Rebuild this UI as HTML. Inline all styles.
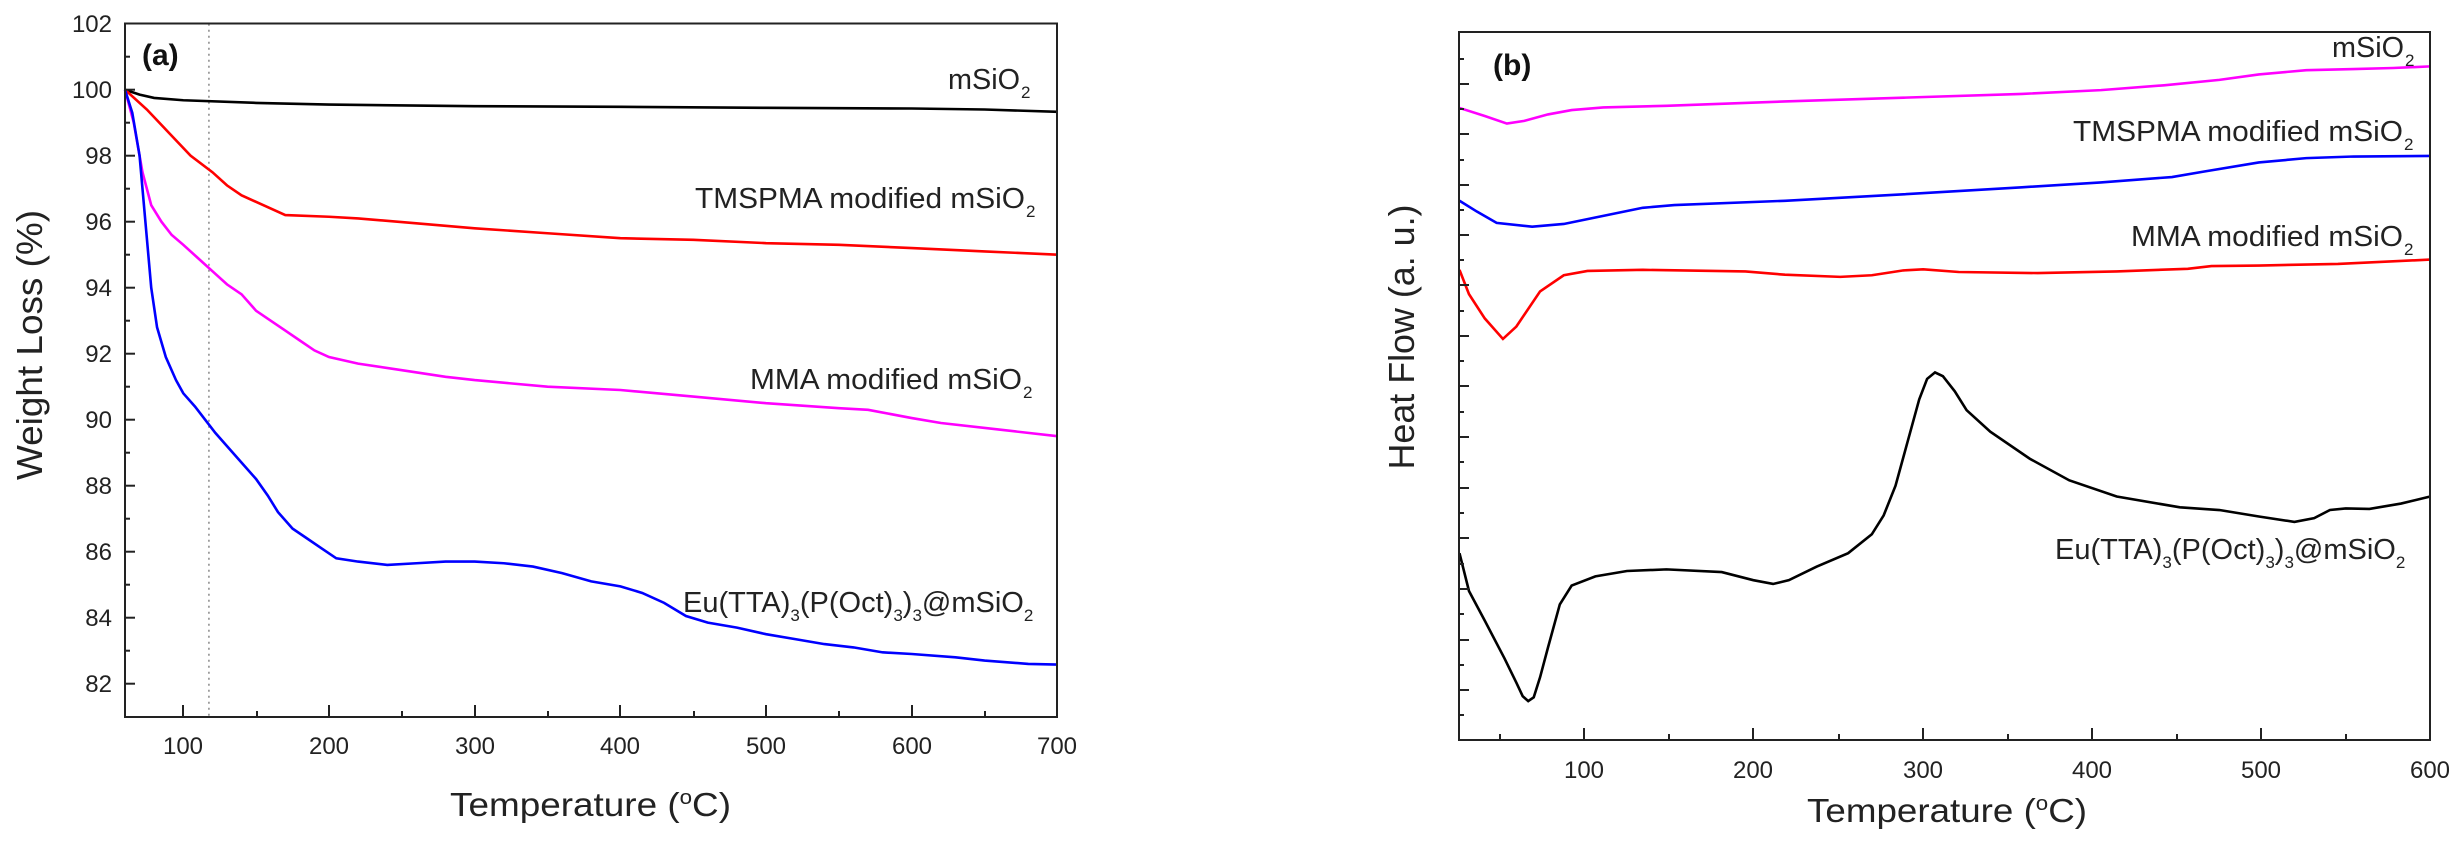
<!DOCTYPE html>
<html><head><meta charset="utf-8"><style>
html,body{margin:0;padding:0;background:#fff;}
svg{display:block;font-family:"Liberation Sans",Arial,sans-serif;}
</style></head><body>
<svg width="2464" height="842" viewBox="0 0 2464 842" xmlns="http://www.w3.org/2000/svg">
<rect width="2464" height="842" fill="#fff"/>
<!-- Panel A -->
<g transform="translate(125,23.7) scale(1.457,-33) translate(-60,-102)" fill="none" stroke-width="2.6">
<line x1="117.6" y1="102" x2="117.6" y2="81" stroke="#888" stroke-dasharray="2,4" vector-effect="non-scaling-stroke" stroke-width="1.5"/>
<polyline vector-effect="non-scaling-stroke" stroke="#000" points="60,100 70,99.85 80,99.75 100,99.68 150,99.6 200,99.55 300,99.5 400,99.48 500,99.45 600,99.43 650,99.4 700,99.33"/>
<polyline vector-effect="non-scaling-stroke" stroke="#f00" points="60,100 75,99.4 90,98.7 105,98 120,97.5 130,97.1 140,96.8 155,96.5 170,96.2 200,96.15 220,96.1 260,95.95 300,95.8 350,95.65 400,95.5 450,95.45 500,95.35 550,95.3 600,95.2 650,95.1 700,95.0"/>
<polyline vector-effect="non-scaling-stroke" stroke="#f0f" points="60,100 66,99 72,97.5 78,96.5 85,96 92,95.6 100,95.3 110,94.9 120,94.5 130,94.1 140,93.8 150,93.3 160,93 170,92.7 180,92.4 190,92.1 200,91.9 220,91.7 250,91.5 280,91.3 300,91.2 350,91.0 400,90.9 450,90.7 500,90.5 550,90.35 570,90.3 600,90.05 620,89.9 660,89.7 700,89.5"/>
<polyline vector-effect="non-scaling-stroke" stroke="#00f" points="60,100 65,99.3 70,98 74,96 78,94 82,92.8 88,91.9 95,91.2 100,90.8 108,90.4 115,90 122,89.6 130,89.2 140,88.7 150,88.2 158,87.7 165,87.2 175,86.7 185,86.4 195,86.1 205,85.8 220,85.7 240,85.6 260,85.65 280,85.7 300,85.7 320,85.65 340,85.55 360,85.35 380,85.1 400,84.95 415,84.75 430,84.45 445,84.05 460,83.85 480,83.7 500,83.5 520,83.35 540,83.2 560,83.1 580,82.95 600,82.9 630,82.8 650,82.7 680,82.6 700,82.58"/>
</g>
<rect x="125" y="23.5" width="932" height="693.5" fill="none" stroke="#222" stroke-width="2"/>
<g stroke="#222" stroke-width="2">
<line x1="183" y1="717" x2="183" y2="705"/><line x1="329" y1="717" x2="329" y2="705"/><line x1="475" y1="717" x2="475" y2="705"/><line x1="620" y1="717" x2="620" y2="705"/><line x1="766" y1="717" x2="766" y2="705"/><line x1="912" y1="717" x2="912" y2="705"/>
<line x1="257" y1="717" x2="257" y2="711"/><line x1="402" y1="717" x2="402" y2="711"/><line x1="548" y1="717" x2="548" y2="711"/><line x1="694" y1="717" x2="694" y2="711"/><line x1="839" y1="717" x2="839" y2="711"/><line x1="985" y1="717" x2="985" y2="711"/>
<line x1="125" y1="89.7" x2="135" y2="89.7"/><line x1="125" y1="155.7" x2="135" y2="155.7"/><line x1="125" y1="221.7" x2="135" y2="221.7"/><line x1="125" y1="287.7" x2="135" y2="287.7"/><line x1="125" y1="353.7" x2="135" y2="353.7"/><line x1="125" y1="419.7" x2="135" y2="419.7"/><line x1="125" y1="485.7" x2="135" y2="485.7"/><line x1="125" y1="551.7" x2="135" y2="551.7"/><line x1="125" y1="617.7" x2="135" y2="617.7"/><line x1="125" y1="683.7" x2="135" y2="683.7"/>
<line x1="125" y1="56.7" x2="130" y2="56.7"/><line x1="125" y1="122.7" x2="130" y2="122.7"/><line x1="125" y1="188.7" x2="130" y2="188.7"/><line x1="125" y1="254.7" x2="130" y2="254.7"/><line x1="125" y1="320.7" x2="130" y2="320.7"/><line x1="125" y1="386.7" x2="130" y2="386.7"/><line x1="125" y1="452.7" x2="130" y2="452.7"/><line x1="125" y1="518.7" x2="130" y2="518.7"/><line x1="125" y1="584.7" x2="130" y2="584.7"/><line x1="125" y1="650.7" x2="130" y2="650.7"/>
</g>
<g font-size="24" fill="#222" text-anchor="end">
<text x="112" y="32">102</text><text x="112" y="98">100</text><text x="112" y="164">98</text><text x="112" y="230">96</text><text x="112" y="296">94</text><text x="112" y="362">92</text><text x="112" y="428">90</text><text x="112" y="494">88</text><text x="112" y="560">86</text><text x="112" y="626">84</text><text x="112" y="692">82</text>
</g>
<g font-size="24" fill="#222" text-anchor="middle">
<text x="183" y="754">100</text><text x="329" y="754">200</text><text x="475" y="754">300</text><text x="620" y="754">400</text><text x="766" y="754">500</text><text x="912" y="754">600</text><text x="1057" y="754">700</text>
</g>
<text x="450" y="816" font-size="33" fill="#222" textLength="281" lengthAdjust="spacingAndGlyphs">Temperature (<tspan font-size="20" dy="-12">o</tspan><tspan dy="12">C)</tspan></text>
<text transform="translate(42,345) rotate(-90)" text-anchor="middle" font-size="36" fill="#222" textLength="270" lengthAdjust="spacingAndGlyphs">Weight Loss (%)</text>
<text x="142" y="65" font-size="30" font-weight="bold" fill="#111">(a)</text>
<g font-size="29" fill="#222">
<text x="948" y="89" textLength="72" lengthAdjust="spacingAndGlyphs">mSiO</text><text x="1021" y="98" font-size="17">2</text>
<text x="695" y="208" textLength="330" lengthAdjust="spacingAndGlyphs">TMSPMA modified mSiO</text><text x="1026" y="217" font-size="17">2</text>
<text x="750" y="389" textLength="272" lengthAdjust="spacingAndGlyphs">MMA modified mSiO</text><text x="1023" y="398" font-size="17">2</text>
<text x="683" y="612">Eu(TTA)<tspan font-size="17" dy="9">3</tspan><tspan dy="-9">(P(Oct)</tspan><tspan font-size="17" dy="9">3</tspan><tspan dy="-9">)</tspan><tspan font-size="17" dy="9">3</tspan><tspan dy="-9">@mSiO</tspan><tspan font-size="17" dy="9">2</tspan></text>
</g>
<!-- Panel B -->
<g transform="translate(1232,0) scale(0.7899,0.5397)" fill="none" stroke-width="2.6">
<polyline vector-effect="non-scaling-stroke" stroke="#f0f" points="288,200 320,215 348,229 370,224 400,212 430,204 470,199 550,196 700,188 850,181 1000,174 1100,167 1180,158 1250,148 1300,138 1360,130 1420,128 1470,126 1517,123"/>
<polyline vector-effect="non-scaling-stroke" stroke="#00f" points="288,372 310,392 335,413 380,420 420,415 460,403 520,385 560,380 700,372 850,360 1000,347 1100,338 1190,328 1230,318 1300,301 1360,293 1420,290 1517,289"/>
<polyline vector-effect="non-scaling-stroke" stroke="#f00" points="288,500 300,545 320,590 343,628 360,605 390,540 420,510 450,502 520,500 650,503 700,509 770,513 810,510 850,501 875,499 920,504 1020,506 1120,503 1210,498 1240,493 1300,492 1400,489 1517,481"/>
<polyline vector-effect="non-scaling-stroke" stroke="#000" points="288,1025 300,1095 320,1150 345,1220 360,1265 368,1290 375,1299 382,1292 390,1255 400,1200 415,1120 430,1085 460,1068 500,1058 550,1055 620,1060 660,1075 685,1082 705,1075 740,1050 780,1025 810,990 825,955 840,900 855,820 870,740 880,702 890,690 900,697 915,725 930,760 960,800 1010,850 1060,890 1120,920 1200,940 1250,945 1300,957 1345,967 1370,960 1390,945 1410,942 1440,943 1480,933 1517,920"/>
</g>
<rect x="1459" y="32" width="971" height="708" fill="none" stroke="#222" stroke-width="2"/>
<g stroke="#222" stroke-width="2">
<line x1="1584" y1="740" x2="1584" y2="728"/><line x1="1753" y1="740" x2="1753" y2="728"/><line x1="1923" y1="740" x2="1923" y2="728"/><line x1="2092" y1="740" x2="2092" y2="728"/><line x1="2261" y1="740" x2="2261" y2="728"/>
<line x1="1500" y1="740" x2="1500" y2="734"/><line x1="1669" y1="740" x2="1669" y2="734"/><line x1="1839" y1="740" x2="1839" y2="734"/><line x1="2008" y1="740" x2="2008" y2="734"/><line x1="2177" y1="740" x2="2177" y2="734"/><line x1="2346" y1="740" x2="2346" y2="734"/>
<line x1="1459" y1="84" x2="1469" y2="84"/><line x1="1459" y1="134" x2="1469" y2="134"/><line x1="1459" y1="185" x2="1469" y2="185"/><line x1="1459" y1="235" x2="1469" y2="235"/><line x1="1459" y1="285" x2="1469" y2="285"/><line x1="1459" y1="336" x2="1469" y2="336"/><line x1="1459" y1="386" x2="1469" y2="386"/><line x1="1459" y1="437" x2="1469" y2="437"/><line x1="1459" y1="488" x2="1469" y2="488"/><line x1="1459" y1="538" x2="1469" y2="538"/><line x1="1459" y1="589" x2="1469" y2="589"/><line x1="1459" y1="640" x2="1469" y2="640"/><line x1="1459" y1="690" x2="1469" y2="690"/>
<line x1="1459" y1="59" x2="1464" y2="59"/><line x1="1459" y1="109" x2="1464" y2="109"/><line x1="1459" y1="160" x2="1464" y2="160"/><line x1="1459" y1="210" x2="1464" y2="210"/><line x1="1459" y1="260" x2="1464" y2="260"/><line x1="1459" y1="311" x2="1464" y2="311"/><line x1="1459" y1="361" x2="1464" y2="361"/><line x1="1459" y1="412" x2="1464" y2="412"/><line x1="1459" y1="462" x2="1464" y2="462"/><line x1="1459" y1="513" x2="1464" y2="513"/><line x1="1459" y1="564" x2="1464" y2="564"/><line x1="1459" y1="614" x2="1464" y2="614"/><line x1="1459" y1="665" x2="1464" y2="665"/><line x1="1459" y1="715" x2="1464" y2="715"/>
</g>
<g font-size="24" fill="#222" text-anchor="middle">
<text x="1584" y="778">100</text><text x="1753" y="778">200</text><text x="1923" y="778">300</text><text x="2092" y="778">400</text><text x="2261" y="778">500</text><text x="2430" y="778">600</text>
</g>
<text x="1807" y="822" font-size="33" fill="#222" textLength="280" lengthAdjust="spacingAndGlyphs">Temperature (<tspan font-size="20" dy="-12">o</tspan><tspan dy="12">C)</tspan></text>
<text transform="translate(1414,337) rotate(-90)" text-anchor="middle" font-size="36" fill="#222" textLength="265" lengthAdjust="spacingAndGlyphs">Heat Flow (a. u.)</text>
<text x="1493" y="75" font-size="30" font-weight="bold" fill="#111">(b)</text>
<g font-size="29" fill="#222">
<text x="2332" y="57" textLength="72" lengthAdjust="spacingAndGlyphs">mSiO</text><text x="2405" y="66" font-size="17">2</text>
<text x="2073" y="141" textLength="330" lengthAdjust="spacingAndGlyphs">TMSPMA modified mSiO</text><text x="2404" y="150" font-size="17">2</text>
<text x="2131" y="246" textLength="272" lengthAdjust="spacingAndGlyphs">MMA modified mSiO</text><text x="2404" y="255" font-size="17">2</text>
<text x="2055" y="559">Eu(TTA)<tspan font-size="17" dy="9">3</tspan><tspan dy="-9">(P(Oct)</tspan><tspan font-size="17" dy="9">3</tspan><tspan dy="-9">)</tspan><tspan font-size="17" dy="9">3</tspan><tspan dy="-9">@mSiO</tspan><tspan font-size="17" dy="9">2</tspan></text>
</g>
</svg>
</body></html>
